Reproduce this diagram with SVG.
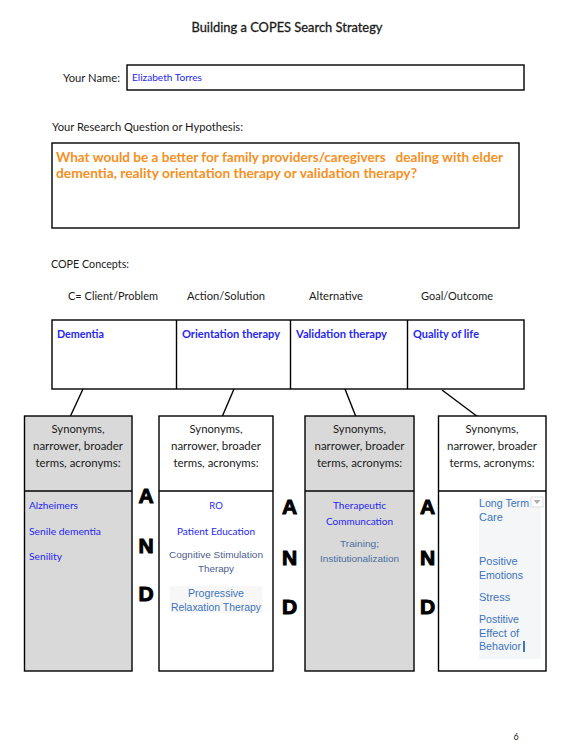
<svg xmlns="http://www.w3.org/2000/svg" width="576" height="755" viewBox="0 0 576 755">
<style>
.c{font-family:Lato,"Liberation Sans",sans-serif;fill:#1a1a1a}
.lbl{font-size:11px}
.blue{font-family:Lato,"Liberation Sans",sans-serif;fill:#2626f0}
.bx{stroke:#000;stroke-width:1.4;fill:#fff}
.gray{fill:#d9d9d9}
.hd{font-family:Lato,"Liberation Sans",sans-serif;font-size:11px;fill:#1a1a1a;text-anchor:middle}
.sm{font-family:"Liberation Sans",Arial,sans-serif;font-size:9px}
.ar{font-family:"Liberation Sans",Arial,sans-serif;font-size:11px;fill:#3d74bb}
.and{font-family:"Liberation Sans",Arial,sans-serif;font-size:21px;font-weight:900;fill:#000;stroke:#000;stroke-width:1;text-anchor:middle}
.ln{stroke:#000;stroke-width:1.4;fill:none}
</style>
<rect width="576" height="755" fill="#fff"/>
<text class="c" x="287" y="31.5" font-size="13" text-anchor="middle" stroke="#1a1a1a" stroke-width="0.3" textLength="191" lengthAdjust="spacingAndGlyphs">Building a COPES Search Strategy</text>

<g id="name">
<text class="c lbl" x="63" y="82" textLength="57" lengthAdjust="spacingAndGlyphs">Your Name:</text>
<rect class="bx" x="127" y="65" width="397" height="25"/>
<text class="blue" x="132" y="80.5" font-size="9.5" textLength="70" lengthAdjust="spacingAndGlyphs">Elizabeth Torres</text>
</g>

<g id="question">
<text class="c lbl" x="52" y="131" textLength="191" lengthAdjust="spacingAndGlyphs">Your Research Question or Hypothesis:</text>
<rect class="bx" x="52" y="143" width="467" height="85"/>
<text x="56" y="161.5" font-family="Lato,'Liberation Sans',sans-serif" font-size="12.5" font-weight="bold" fill="#f7901e" textLength="447" lengthAdjust="spacingAndGlyphs" xml:space="preserve">What would be a better for family providers/caregivers   dealing with elder</text>
<text x="56" y="177.5" font-family="Lato,'Liberation Sans',sans-serif" font-size="12.5" font-weight="bold" fill="#f7901e" textLength="361" lengthAdjust="spacingAndGlyphs">dementia, reality orientation therapy or validation therapy?</text>
</g>

<g id="cope-headers">
<text class="c lbl" x="51" y="268" textLength="78" lengthAdjust="spacingAndGlyphs">COPE Concepts:</text>
<text class="c lbl" x="68" y="300" textLength="90" lengthAdjust="spacingAndGlyphs">C= Client/Problem</text>
<text class="c lbl" x="187" y="300" textLength="78" lengthAdjust="spacingAndGlyphs">Action/Solution</text>
<text class="c lbl" x="309" y="300" textLength="54" lengthAdjust="spacingAndGlyphs">Alternative</text>
<text class="c lbl" x="421" y="300" textLength="72" lengthAdjust="spacingAndGlyphs">Goal/Outcome</text>
</g>

<g id="concepts">
<rect class="bx" x="52" y="320" width="472" height="69"/>
<line class="ln" x1="176.5" y1="320" x2="176.5" y2="389"/>
<line class="ln" x1="290.5" y1="320" x2="290.5" y2="389"/>
<line class="ln" x1="407.5" y1="320" x2="407.5" y2="389"/>
<text class="blue" x="57" y="338" font-size="11" font-weight="bold" textLength="47" lengthAdjust="spacingAndGlyphs">Dementia</text>
<text class="blue" x="182" y="338" font-size="11" font-weight="bold" textLength="98" lengthAdjust="spacingAndGlyphs">Orientation therapy</text>
<text class="blue" x="296" y="338" font-size="11" font-weight="bold" textLength="91" lengthAdjust="spacingAndGlyphs">Validation therapy</text>
<text class="blue" x="413" y="338" font-size="11" font-weight="bold" textLength="66" lengthAdjust="spacingAndGlyphs">Quality of life</text>
</g>

<g id="connectors">
<line class="ln" x1="83" y1="389" x2="70" y2="417"/>
<line class="ln" x1="234" y1="389" x2="222" y2="417"/>
<line class="ln" x1="345" y1="389" x2="356" y2="417"/>
<line class="ln" x1="442" y1="390" x2="478" y2="417"/>
</g>

<g id="box1">
<rect class="bx gray" x="24.5" y="416" width="107.5" height="255"/>
<line class="ln" x1="24.5" y1="491" x2="132" y2="491"/>
<text class="hd" x="78" y="433" textLength="53" lengthAdjust="spacingAndGlyphs">Synonyms,</text>
<text class="hd" x="78" y="450" textLength="90" lengthAdjust="spacingAndGlyphs">narrower, broader</text>
<text class="hd" x="78" y="467" textLength="85" lengthAdjust="spacingAndGlyphs">terms, acronyms:</text>
<text class="blue" x="29" y="508.5" font-size="9.5" textLength="49" lengthAdjust="spacingAndGlyphs">Alzheimers</text>
<text class="blue" x="29" y="534.5" font-size="9.5" textLength="72" lengthAdjust="spacingAndGlyphs">Senile dementia</text>
<text class="blue" x="29" y="559.5" font-size="9.5" textLength="33" lengthAdjust="spacingAndGlyphs">Senility</text>
</g>

<g id="box2">
<rect class="bx" x="159" y="416" width="114" height="255"/>
<line class="ln" x1="159" y1="491" x2="273" y2="491"/>
<text class="hd" x="216" y="433" textLength="53" lengthAdjust="spacingAndGlyphs">Synonyms,</text>
<text class="hd" x="216" y="450" textLength="90" lengthAdjust="spacingAndGlyphs">narrower, broader</text>
<text class="hd" x="216" y="467" textLength="85" lengthAdjust="spacingAndGlyphs">terms, acronyms:</text>
<text class="blue" x="216" y="508.5" font-size="9.5" text-anchor="middle">RO</text>
<text class="blue" x="216" y="534.5" font-size="9.5" text-anchor="middle" textLength="78" lengthAdjust="spacingAndGlyphs">Patient Education</text>
<text class="sm" x="216" y="558.3" fill="#4d5d8c" text-anchor="middle" textLength="94" lengthAdjust="spacingAndGlyphs">Cognitive Stimulation</text>
<text class="sm" x="216" y="572.3" fill="#4d5d8c" text-anchor="middle" textLength="36" lengthAdjust="spacingAndGlyphs">Therapy</text>
<rect x="170" y="586" width="92" height="27" fill="#f7f7f7"/>
<text class="ar" x="216" y="597" text-anchor="middle" textLength="56" lengthAdjust="spacingAndGlyphs">Progressive</text>
<text class="ar" x="216" y="611" text-anchor="middle" textLength="90" lengthAdjust="spacingAndGlyphs">Relaxation Therapy</text>
</g>

<g id="box3">
<rect class="bx gray" x="305" y="416" width="109" height="255"/>
<line class="ln" x1="305" y1="491" x2="414" y2="491"/>
<text class="hd" x="359.5" y="433" textLength="53" lengthAdjust="spacingAndGlyphs">Synonyms,</text>
<text class="hd" x="359.5" y="450" textLength="90" lengthAdjust="spacingAndGlyphs">narrower, broader</text>
<text class="hd" x="359.5" y="467" textLength="85" lengthAdjust="spacingAndGlyphs">terms, acronyms:</text>
<text class="blue" x="359.5" y="508.5" font-size="9.5" text-anchor="middle" textLength="53" lengthAdjust="spacingAndGlyphs">Therapeutic</text>
<text class="blue" x="359.5" y="524.5" font-size="9.5" text-anchor="middle" textLength="67" lengthAdjust="spacingAndGlyphs">Communcation</text>
<text class="sm" x="359.5" y="547.3" fill="#4a6e9e" text-anchor="middle" textLength="39" lengthAdjust="spacingAndGlyphs">Training;</text>
<text class="sm" x="359.5" y="562.3" fill="#4a6e9e" text-anchor="middle" textLength="79" lengthAdjust="spacingAndGlyphs">Institutionalization</text>
</g>

<g id="box4">
<rect class="bx" x="438.5" y="416" width="107.5" height="255"/>
<line class="ln" x1="438.5" y1="491" x2="546" y2="491"/>
<text class="hd" x="492" y="433" textLength="53" lengthAdjust="spacingAndGlyphs">Synonyms,</text>
<text class="hd" x="492" y="450" textLength="90" lengthAdjust="spacingAndGlyphs">narrower, broader</text>
<text class="hd" x="492" y="467" textLength="85" lengthAdjust="spacingAndGlyphs">terms, acronyms:</text>
<rect x="479" y="498" width="62" height="161" fill="#f5f6f8"/>
<rect x="531" y="497" width="12" height="10" fill="#fff" stroke="#d8d8d8" stroke-width="0.8"/>
<polygon points="533.5,500 540.5,500 537,504" fill="#b0b0b0"/>
<text class="ar" x="479" y="507" textLength="50" lengthAdjust="spacingAndGlyphs">Long Term</text>
<text class="ar" x="479" y="521">Care</text>
<text class="ar" x="479" y="565">Positive</text>
<text class="ar" x="479" y="579" textLength="44" lengthAdjust="spacingAndGlyphs">Emotions</text>
<text class="ar" x="479" y="601">Stress</text>
<text class="ar" x="479" y="623" textLength="40" lengthAdjust="spacingAndGlyphs">Postitive</text>
<text class="ar" x="479" y="637">Effect of</text>
<text class="ar" x="479" y="650" textLength="42" lengthAdjust="spacingAndGlyphs">Behavior</text>
<rect x="523" y="641" width="2" height="11" fill="#3d74bb"/>
</g>

<g id="and-operators">
<text class="and" x="146" y="502.5">A</text>
<text class="and" x="146" y="552.5">N</text>
<text class="and" x="146" y="601">D</text>
<text class="and" x="289.5" y="514">A</text>
<text class="and" x="289.5" y="565">N</text>
<text class="and" x="289.5" y="613.5">D</text>
<text class="and" x="427.5" y="514">A</text>
<text class="and" x="427.5" y="565">N</text>
<text class="and" x="427.5" y="613.5">D</text>
</g>

<text class="c" x="516" y="740" font-size="9" text-anchor="middle">6</text>
</svg>
